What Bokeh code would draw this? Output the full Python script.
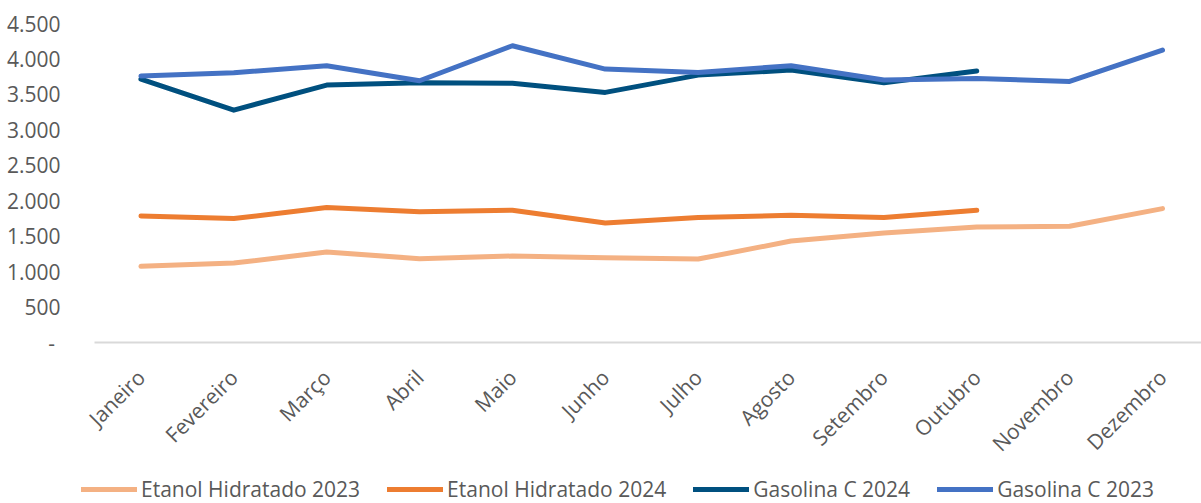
import math
from bokeh.plotting import figure
from bokeh.models import (Range1d, FixedTicker, CustomJSTickFormatter, Legend, LegendItem,
                          ColumnDataSource)
from bokeh.embed import file_html
from bokeh.resources import INLINE

months = ["Janeiro", "Fevereiro", "Março", "Abril", "Maio", "Junho", "Julho",
          "Agosto", "Setembro", "Outubro", "Novembro", "Dezembro"]
etanol_2023 = [1074, 1120, 1276, 1183, 1220, 1196, 1177, 1431, 1545, 1629, 1639, 1889]
etanol_2024 = [1785, 1748, 1903, 1846, 1865, 1686, 1762, 1794, 1762, 1865]
gasolina_2024 = [3715, 3278, 3631, 3663, 3658, 3528, 3772, 3843, 3663, 3829]
gasolina_2023 = [3758, 3805, 3904, 3692, 4186, 3857, 3810, 3904, 3702, 3725, 3683, 4125]
y_ticks = [0, 500, 1000, 1500, 2000, 2500, 3000, 3500, 4000, 4500]

series = [
    ("Etanol Hidratado 2023", etanol_2023, "#F4B183"),
    ("Etanol Hidratado 2024", etanol_2024, "#ED7D31"),
    ("Gasolina C 2024", gasolina_2024, "#00507F"),
    ("Gasolina C 2023", gasolina_2023, "#4472C4"),
]

FONT = "Open Sans"
GREY = "#595959"
FS = "21px"
LW = 5

p = figure(width=1201, height=471, output_backend="svg", toolbar_location=None,
           x_range=Range1d(-0.5, 11.42), y_range=Range1d(0, 4500),
           min_border_left=94, min_border_right=0, min_border_top=23,
           min_border_bottom=129)
p.outline_line_color = None
p.xgrid.visible = False
p.ygrid.visible = False

sources = []
for name, vals, color in series:
    src = ColumnDataSource(dict(x=list(range(len(vals))), y=vals))
    sources.append(src)
    p.line("x", "y", source=src, line_color=color, line_width=LW,
           line_cap="round", line_join="round")

# x axis
p.xaxis.ticker = FixedTicker(ticks=list(range(len(months))))
p.xaxis.major_label_overrides = {i: m for i, m in enumerate(months)}
p.xaxis.major_label_orientation = math.pi / 4
p.xaxis.axis_line_color = "#D9D9D9"
p.xaxis.axis_line_width = 2
p.xaxis.major_tick_line_color = None
p.xaxis.minor_tick_line_color = None
p.xaxis.major_label_text_font = FONT
p.xaxis.major_label_text_font_size = FS
p.xaxis.major_label_text_color = GREY
p.xaxis.major_label_standoff = 25

# y axis
p.yaxis.ticker = FixedTicker(ticks=y_ticks)
p.yaxis.formatter = CustomJSTickFormatter(code="""
if (tick == 0) { return '-\u00a0'; }
return Math.round(tick).toString().replace(/\\B(?=(\\d{3})+(?!\\d))/g, '.');
""")
p.yaxis.axis_line_color = None
p.yaxis.major_tick_line_color = None
p.yaxis.minor_tick_line_color = None
p.yaxis.major_label_text_font = FONT
p.yaxis.major_label_text_font_size = FS
p.yaxis.major_label_text_color = GREY
p.yaxis.major_label_standoff = 28

# legend strip below the chart (separate root so its frame starts at x=0)
pl = figure(width=1201, height=32, output_backend="svg", toolbar_location=None,
            x_range=Range1d(-1, -0.5), y_range=Range1d(-1, -0.5), min_border=0,
            x_axis_location=None, y_axis_location=None)
pl.outline_line_color = None
pl.xgrid.visible = False
pl.ygrid.visible = False
items = []
for (name, vals, color), src in zip(series, sources):
    r = pl.line("x", "y", source=src, line_color=color, line_width=LW, line_cap="round")
    items.append(LegendItem(label=name, renderers=[r]))
legend = Legend(items=items, orientation="horizontal", location=(81, 0),
                label_text_font=FONT, label_text_font_size=FS,
                label_text_color=GREY, glyph_width=56, glyph_height=20,
                label_standoff=4, spacing=27, border_line_color=None,
                background_fill_alpha=0, padding=0, margin=0)
pl.add_layout(legend, "center")

open("out.html", "w").write(file_html([p, pl], INLINE))
